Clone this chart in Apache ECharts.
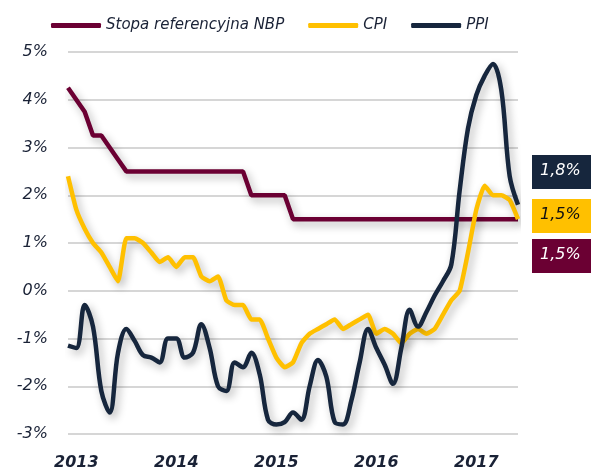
<!DOCTYPE html>
<html>
<head>
<meta charset="utf-8">
<script src="https://cdn.jsdelivr.net/npm/echarts@6/dist/echarts.min.js"></script>
<style>
    html, body { margin: 0; padding: 0; background: #ffffff; }
    #chart { width: 591px; height: 472px; }
</style>
</head>
<body>
<div id="chart"></div>
<script>
// miesiace: 12.2012 - 06.2017
var months = [
    '2012-12',
    '2013-01', '2013-02', '2013-03', '2013-04', '2013-05', '2013-06', '2013-07', '2013-08', '2013-09', '2013-10', '2013-11', '2013-12',
    '2014-01', '2014-02', '2014-03', '2014-04', '2014-05', '2014-06', '2014-07', '2014-08', '2014-09', '2014-10', '2014-11', '2014-12',
    '2015-01', '2015-02', '2015-03', '2015-04', '2015-05', '2015-06', '2015-07', '2015-08', '2015-09', '2015-10', '2015-11', '2015-12',
    '2016-01', '2016-02', '2016-03', '2016-04', '2016-05', '2016-06', '2016-07', '2016-08', '2016-09', '2016-10', '2016-11', '2016-12',
    '2017-01', '2017-02', '2017-03', '2017-04', '2017-05', '2017-06'
]
var yearLabels = [ '2013', '2014', '2015', '2016', '2017' ]

var nbpRate = [
    4.25,
    4.0, 3.75, 3.25, 3.25, 3.0, 2.75, 2.5, 2.5, 2.5, 2.5, 2.5, 2.5,
    2.5, 2.5, 2.5, 2.5, 2.5, 2.5, 2.5, 2.5, 2.5, 2.0, 2.0, 2.0,
    2.0, 2.0, 1.5, 1.5, 1.5, 1.5, 1.5, 1.5, 1.5, 1.5, 1.5, 1.5,
    1.5, 1.5, 1.5, 1.5, 1.5, 1.5, 1.5, 1.5, 1.5, 1.5, 1.5, 1.5,
    1.5, 1.5, 1.5, 1.5, 1.5, 1.5
]
var cpi = [
    2.4,
    1.7, 1.3, 1.0, 0.8, 0.5, 0.2, 1.1, 1.1, 1.0, 0.8, 0.6, 0.7,
    0.5, 0.7, 0.7, 0.3, 0.2, 0.3, -0.2, -0.3, -0.3, -0.6, -0.6, -1.0,
    -1.4, -1.6, -1.5, -1.1, -0.9, -0.8, -0.7, -0.6, -0.8, -0.7, -0.6, -0.5,
    -0.9, -0.8, -0.9, -1.1, -0.9, -0.8, -0.9, -0.8, -0.5, -0.2, 0.0, 0.8,
    1.7, 2.2, 2.0, 2.0, 1.9, 1.5
]
var ppi = [
    -1.15,
    -1.2, -0.3, -0.75, -2.1, -2.55, -1.3, -0.8, -1.05, -1.35, -1.4, -1.5, -1.0,
    -1.0, -1.4, -1.3, -0.7, -1.2, -2.0, -2.1, -1.5, -1.6, -1.3, -1.75, -2.7,
    -2.8, -2.75, -2.55, -2.7, -2.0, -1.45, -1.8, -2.75, -2.8, -2.3, -1.5, -0.8,
    -1.2, -1.55, -1.95, -1.2, -0.4, -0.75, -0.45, -0.1, 0.2, 0.55, 2.1, 3.4,
    4.1, 4.5, 4.75, 4.2, 2.4, 1.8
]

var seriesNames = [ 'Stopa referencyjna NBP', 'CPI', 'PPI' ]
var seriesColors = [ '#6b0033', '#ffc000', '#16263d' ]
var seriesData = [ nbpRate, cpi, ppi ]
var seriesSmooth = [ false, 0.15, 0.35 ]

var textColor = '#1a2236'
var fontName = 'DejaVu Sans'

function fmtPct( v ) {
    return v.toFixed( 1 ).replace( '.', ',' ) + '%'
}

var series = []
for ( var i = 0; i < seriesNames.length; i++ ) {
    series.push( {
        name: seriesNames[i],
        type: 'line',
        data: seriesData[i],
        smooth: seriesSmooth[i],
        symbol: 'none',
        animation: false,
        lineStyle: {
            color: seriesColors[i],
            width: 4.5,
            shadowColor: 'rgba(0,0,0,0.3)',
            shadowBlur: 8,
            shadowOffsetX: 3,
            shadowOffsetY: 4
        },
        itemStyle: { color: seriesColors[i] }
    } )
}

// etykiety z ostatnia wartoscia po prawej stronie
var boxTops = [ 239, 199, 155 ]
var boxTextColors = [ '#ffffff', '#111111', '#ffffff' ]
var graphics = []
for ( var k = 0; k < seriesNames.length; k++ ) {
    var last = seriesData[k][seriesData[k].length - 1]
    graphics.push( {
        type: 'rect',
        left: 532,
        top: boxTops[k],
        shape: { width: 59, height: 34 },
        style: { fill: seriesColors[k] }
    } )
    graphics.push( {
        type: 'text',
        left: 540,
        top: boxTops[k] + 8,
        style: {
            text: fmtPct( last ),
            fill: boxTextColors[k],
            font: 'italic 16px "' + fontName + '"'
        }
    } )
}

var option = {
    backgroundColor: '#ffffff',
    animation: false,
    legend: {
        top: 13,
        left: 46,
        itemWidth: 50,
        itemHeight: 5,
        itemGap: 24,
        icon: 'roundRect',
        textStyle: {
            color: textColor,
            fontFamily: fontName,
            fontStyle: 'italic',
            fontSize: 15
        },
        data: seriesNames
    },
    grid: {
        left: 68,
        right: 73,
        top: 52,
        bottom: 38,
        containLabel: false
    },
    xAxis: {
        type: 'category',
        data: months,
        boundaryGap: false,
        axisLine: { show: false },
        axisTick: { show: false },
        splitLine: { show: false },
        axisLabel: {
            interval: function ( idx, val ) {
                return yearLabels.indexOf( val.slice( 0, 4 ) ) >= 0 && val.slice( 5 ) === '01'
            },
            formatter: function ( val ) {
                return val.slice( 0, 4 )
            },
            color: textColor,
            fontFamily: fontName,
            fontStyle: 'italic',
            fontWeight: 'bold',
            fontSize: 16,
            margin: 21
        }
    },
    yAxis: {
        type: 'value',
        min: -3,
        max: 5,
        interval: 1,
        axisLine: { show: false },
        axisTick: { show: false },
        splitLine: { lineStyle: { color: '#c8c8c8', width: 1.5 } },
        axisLabel: {
            formatter: function ( v ) { return v + '%' },
            color: textColor,
            fontFamily: fontName,
            fontStyle: 'italic',
            fontSize: 16,
            margin: 20
        }
    },
    graphic: graphics,
    series: series
}

var chart = echarts.init( document.getElementById( 'chart' ), null, { renderer: 'canvas' } )
chart.setOption( option )
</script>
</body>
</html>
